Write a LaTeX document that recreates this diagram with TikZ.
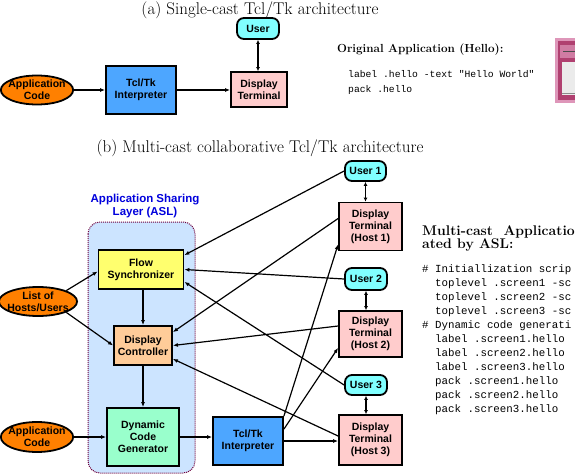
\documentclass[tikz,border=0pt]{standalone}
\usepackage{fontspec}
\setsansfont{Liberation Sans}
\setmonofont{Liberation Mono}
\usetikzlibrary{arrows.meta,shapes.geometric}

\definecolor{tclblue}{RGB}{77,166,255}
\definecolor{termpink}{RGB}{255,204,204}
\definecolor{usercyan}{RGB}{128,255,255}
\definecolor{codeorange}{RGB}{255,128,0}
\definecolor{syncyellow}{RGB}{255,255,110}
\definecolor{ctrlpeach}{RGB}{255,204,153}
\definecolor{genmint}{RGB}{153,255,204}
\definecolor{aslblue}{RGB}{204,228,255}
\definecolor{asldot}{RGB}{110,0,60}
\definecolor{asltext}{RGB}{0,0,220}
\definecolor{winrose}{RGB}{176,64,112}
\definecolor{winpink}{RGB}{222,150,185}

\tikzset{
  blk/.style={draw, line width=1.8pt, align=center, inner sep=0pt,
    font=\sffamily\bfseries\fontsize{10.5}{12}\selectfont},
  term/.style={blk, fill=termpink, minimum width=63pt, minimum height=48pt},
  interp/.style={blk, fill=tclblue, minimum width=70pt, minimum height=48pt},
  usr/.style={blk, fill=usercyan, rounded corners=7pt, minimum width=42pt, minimum height=21pt},
  src/.style={blk, ellipse, fill=codeorange, minimum width=70pt, minimum height=29pt, inner sep=-3pt},
  flow/.style={-{Latex[length=5pt,width=4pt]}, line width=1.2pt},
  both/.style={{Latex[length=4pt,width=4pt]}-{Latex[length=4pt,width=4pt]}, line width=1.8pt},
  caption/.style={font=\fontsize{17}{19}\selectfont},
  heading/.style={font=\bfseries\fontsize{11.7}{14}\selectfont, align=left, inner sep=0pt},
}

\begin{document}
\begin{tikzpicture}[x=1pt,y=-1pt]
\useasboundingbox (0,0) rectangle (575,476);
\clip (0,0) rectangle (575,476);

% (a) single-cast
\node[caption] (titleA) at (260,10) {(a) Single-cast Tcl/Tk architecture};
\node[src] (appA) at (37,90) {Application\\Code};
\node[interp] (tclA) at (141,90) {Tcl/Tk\\Interpreter};
\node[term, minimum width=56pt, minimum height=35pt] (dtA) at (259,89.5) {Display\\Terminal};
\node[usr] (userA) at (258,28.5) {User};
\draw[flow] (appA) -- (tclA);
\draw[flow] (tclA.east) -- (tclA.east -| dtA.west);
\draw[both] (userA.south) -- (userA.south |- dtA.north);

\node[heading, anchor=west] (origHead) at (337,50) {Original Application (Hello):};
\node[anchor=west, align=left, inner sep=0pt, font=\ttfamily\fontsize{9.7}{15}\selectfont] (codeA) at (348,82.5)
  {label .hello -text "Hello World"\\pack .hello};

% the hello window, cut by the page edge
\fill[winpink] (555,38) rectangle (585,103);
\fill[winrose] (558,41) rectangle (585,100);
\fill[winpink!70!winrose] (560,45) rectangle (585,58);
\draw[black!70, line width=1pt] (563,52) -- (585,52);
\fill[black!8] (562,62) rectangle (585,95);
\draw[black!45, line width=1pt] (562,94) -- (585,94);

% (b) multi-cast
\node[caption] (titleB) at (260,148) {(b) Multi-cast collaborative Tcl/Tk architecture};
\node[font=\sffamily\bfseries\fontsize{11.5}{13.5}\selectfont, text=asltext, align=center] (aslLabel) at (145,206)
  {Application Sharing\\Layer (ASL)};
\draw[asldot, densely dotted, line width=1pt, fill=aslblue, rounded corners=12pt] (88,222) rectangle (195,473);

\node[blk, fill=syncyellow, minimum width=85pt, minimum height=39pt] (fs) at (141,269.5) {Flow\\Synchronizer};
\node[blk, fill=ctrlpeach, minimum width=58pt, minimum height=39pt] (dc) at (143,345.5) {Display\\Controller};
\node[blk, fill=genmint, minimum width=72pt, minimum height=58pt] (dcg) at (143,437) {Dynamic\\Code\\Generator};
\node[src, minimum width=68pt] (hosts) at (38,301.5) {List of\\Hosts/Users};
\node[src, minimum height=30pt] (appB) at (37,437) {Application\\Code};
\node[interp] (tclB) at (248,441) {Tcl/Tk\\Interpreter};

\node[usr, minimum width=41pt, minimum height=20pt] (user1) at (365.5,171) {User 1};
\node[term] (dt1) at (370.5,226.5) {Display\\Terminal\\(Host 1)};
\node[usr, minimum height=22pt] (user2) at (366,279) {User 2};
\node[term, minimum height=46pt] (dt2) at (370.5,334) {Display\\Terminal\\(Host 2)};
\node[usr, minimum height=20pt] (user3) at (366,385) {User 3};
\node[term, minimum height=50pt] (dt3) at (370.5,440) {Display\\Terminal\\(Host 3)};

% inside the sharing layer
\draw[flow] (fs.south -| dc.north) -- (dc.north);
\draw[flow] (dc.south) -- (dc.south -| dcg.north) -- (dcg.north);
\draw[flow] (hosts.north east) -- ([yshift=-2pt]fs.west);
\draw[flow] (hosts.south east) -- (dc.west);
\draw[flow] (appB.east) -- (appB.east -| dcg.west);
\draw[flow] (dcg.east) -- (dcg.east -| tclB.west);

% users and terminals back to the layer
\draw[flow] (user1.west) -- ([yshift=-6pt]fs.north east);
\draw[flow] (user2.west) -- (fs.east);
\draw[flow] (user3.west) -- ([yshift=8pt]fs.south east);
\draw[flow] ([yshift=8pt]dt1.west) -- ([yshift=-7pt]dc.north east);
\draw[flow] ([yshift=8pt]dt2.west) -- (dc.east);
\draw[flow] ([yshift=4pt]dt3.west) -- ([yshift=7pt]dc.south east);

% interpreter out to every terminal
\draw[flow] (tclB.north east) -- ([yshift=7pt]dt1.south west);
\draw[flow] ([yshift=-13pt]tclB.north east) -- ([yshift=10pt]dt2.south west);
\draw[flow] (tclB.east) -- (tclB.east -| dt3.west);

\draw[both] (user1.south) -- (user1.south |- dt1.north);
\draw[both] (user2.south) -- (user2.south |- dt2.north);
\draw[both] (user3.south) -- (user3.south |- dt3.north);

\node[heading, font=\bfseries\fontsize{14}{13.5}\selectfont, anchor=north west] (mcHead) at (422,225) {Multi-cast\ \ Application\\ated by ASL:};
\node[anchor=north west, align=left, inner sep=0pt, font=\ttfamily\fontsize{10.8}{14}\selectfont] (codeB) at (422,264)
  {\# Initiallization scrip\\
   \hphantom{xx}toplevel .screen1 -sc\\
   \hphantom{xx}toplevel .screen2 -sc\\
   \hphantom{xx}toplevel .screen3 -sc\\
   \# Dynamic code generati\\
   \hphantom{xx}label .screen1.hello\\
   \hphantom{xx}label .screen2.hello\\
   \hphantom{xx}label .screen3.hello\\
   \hphantom{xx}pack .screen1.hello\\
   \hphantom{xx}pack .screen2.hello\\
   \hphantom{xx}pack .screen3.hello};
\end{tikzpicture}
\end{document}
